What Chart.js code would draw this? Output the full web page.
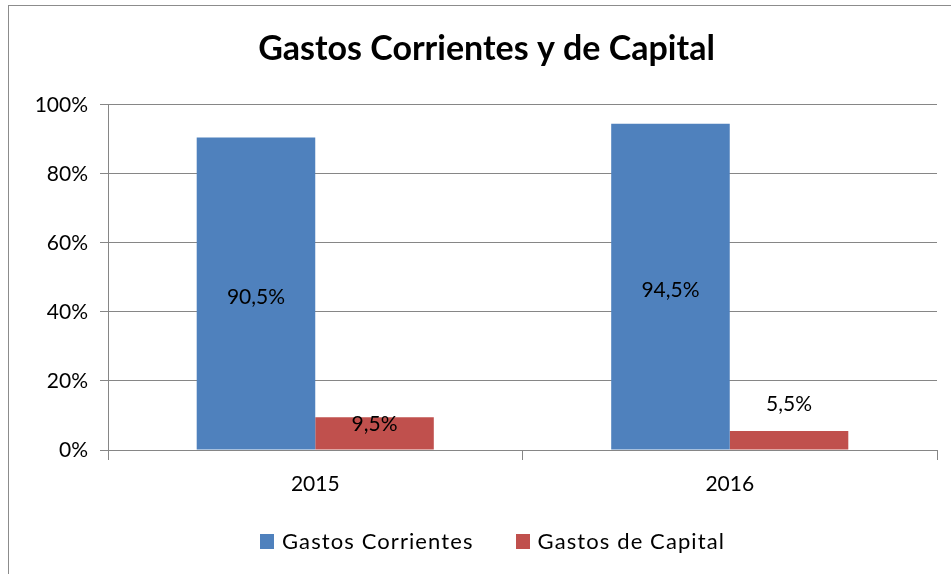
<!DOCTYPE html>
<html>
<head>
<meta charset="utf-8">
<script src="https://cdn.jsdelivr.net/npm/chart.js@4"></script>
<style>
  html, body { margin: 0; padding: 0; background: #fff; overflow: hidden; }
  #frame { position: absolute; left: 8px; top: 5px; width: 1000px; height: 700px;
           border-left: 1px solid #8c8c8c; border-top: 1px solid #8c8c8c; }
  #wrap { position: absolute; left: 0; top: 0; width: 951px; height: 574px; }
  #legend { position: absolute; left: 260px; top: 528px; display: flex; align-items: center;
            font: 22px Lato, "Open Sans", sans-serif; letter-spacing: 1.1px; color: #000; }
  #legend .box { width: 14px; height: 15px; margin-right: 8px; }
  #legend .item { display: flex; align-items: center; margin-right: 42px; line-height: 26px; }
</style>
</head>
<body>
<div id="frame"></div>
<div id="wrap"><canvas id="gastosChart"></canvas></div>
<div id="legend"></div>
<script>
const years = ['2015', '2016'];
const corrientes = [90.5, 94.5];
const capital = [9.5, 5.5];
const yTicks = [0, 20, 40, 60, 80, 100];
const seriesNames = ['Gastos Corrientes', 'Gastos de Capital'];
const seriesColors = ['#4F81BD', '#C0504D'];

const FONT = 'Lato, "Open Sans", sans-serif';

// etiquetas de datos, con el desplazamiento que tienen en el original
const labelShift = [[4, 4], [-9, -36]];
const dataLabels = {
    id: 'dataLabels',
    afterDatasetsDraw(chart) {
        const ctx = chart.ctx;
        ctx.save();
        ctx.font = '21px ' + FONT;
        ctx.fillStyle = '#000';
        ctx.textAlign = 'center';
        ctx.textBaseline = 'middle';
        chart.data.datasets.forEach((ds, di) => {
            chart.getDatasetMeta(di).data.forEach((bar, i) => {
                const yMid = (bar.y + bar.base) / 2;
                const txt = ds.data[i].toFixed(1).replace('.', ',') + '%';
                ctx.fillText(txt, bar.x, yMid + labelShift[di][i]);
            });
        });
        ctx.restore();
    }
};

const ctx = document.getElementById('gastosChart');
const chart = new Chart(ctx, {
    type: 'bar',
    data: {
        labels: years,
        datasets: [{
            label: seriesNames[0],
            data: corrientes,
            backgroundColor: seriesColors[0]
        }, {
            label: seriesNames[1],
            data: capital,
            backgroundColor: seriesColors[1]
        }]
    },
    options: {
        responsive: true,
        maintainAspectRatio: false,
        animation: false,
        datasets: {
            bar: { categoryPercentage: 0.572, barPercentage: 1.0 }
        },
        layout: { padding: { left: 36, right: 14, top: 0, bottom: 60 } },
        plugins: {
            title: {
                display: true,
                text: 'Gastos Corrientes y de Capital',
                color: '#000',
                font: { family: FONT, size: 34, weight: 'bold' },
                padding: { top: 29, bottom: 35 }
            },
            legend: { display: false },
            tooltip: { enabled: false }
        },
        scales: {
            x: {
                grid: { drawOnChartArea: false, drawTicks: true, tickLength: 10, color: '#868686' },
                border: { display: true, color: '#868686', width: 1 },
                ticks: { color: '#000', font: { family: FONT, size: 21 }, padding: 12 },
                afterFit: s => { s.height = 64; }
            },
            y: {
                min: 0,
                max: 100,
                afterBuildTicks: s => { s.ticks = yTicks.map(v => ({ value: v })); },
                grid: { color: '#868686', tickLength: 8 },
                border: { display: true, color: '#868686', width: 1 },
                ticks: {
                    color: '#000',
                    font: { family: FONT, size: 21 },
                    padding: 12,
                    callback: v => v + '%'
                },
                afterFit: s => { s.width = 72; }
            }
        }
    },
    plugins: [dataLabels]
});

// leyenda en HTML, a partir de los datasets
const legendEl = document.getElementById('legend');
chart.data.datasets.forEach(ds => {
    const item = document.createElement('div');
    item.className = 'item';
    const box = document.createElement('span');
    box.className = 'box';
    box.style.background = ds.backgroundColor;
    const label = document.createElement('span');
    label.textContent = ds.label;
    item.appendChild(box);
    item.appendChild(label);
    legendEl.appendChild(item);
});
</script>
</body>
</html>
